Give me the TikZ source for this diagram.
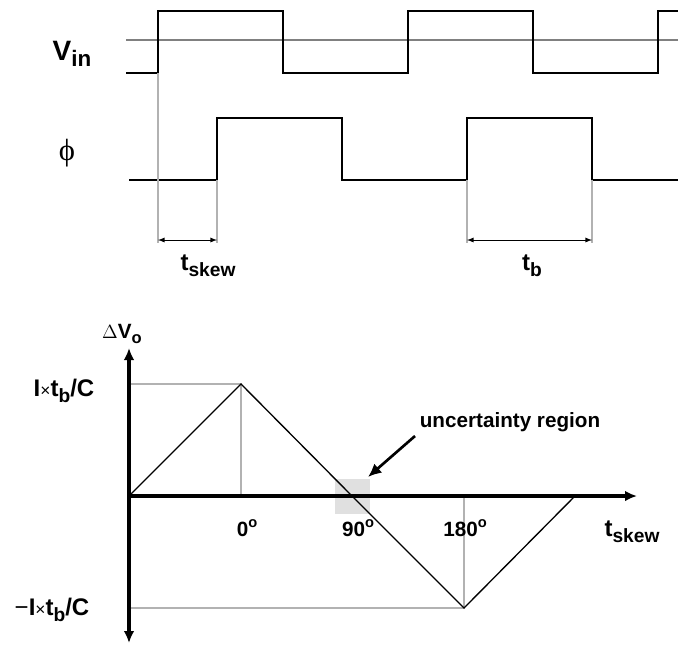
\documentclass[tikz,border=0pt]{standalone}
\usepackage{fontspec}
\setmainfont{Liberation Sans}
\newfontfamily\serifphi{Liberation Serif}
\usetikzlibrary{positioning,arrows.meta}

\newcommand{\lowtxt}[1]{\raisebox{-0.45ex}{\fontsize{0.8em}{1em}\selectfont #1}}
\newcommand{\degtxt}{\raisebox{0.85ex}{\fontsize{11}{11}\selectfont o}}

\begin{document}
\begin{tikzpicture}[x=0.75pt,y=-0.75pt,
wave/.style={draw=black,line width=1pt},
refline/.style={draw=black!50,line width=2pt},
guide/.style={draw=black!30,line width=0.8pt},
dimline/.style={draw=black,line width=0.7pt,latex-latex},
axis/.style={draw=black,line width=2.6pt},
bigtip/.style={-{Latex[length=9pt,width=8pt]}},
plot/.style={draw=black,line width=1pt},
lbl/.style={font=\fontsize{15.5}{18}\selectfont\bfseries,inner sep=1pt},
midlbl/.style={font=\fontsize{18}{21}\selectfont\bfseries,inner sep=1pt},
biglbl/.style={font=\fontsize{21}{24}\selectfont\bfseries,inner sep=1pt}]
\useasboundingbox (0,0) rectangle (678,644);

% timing waveforms
\draw[refline] (126,40) -- (678,40);
\draw[wave] (126,73) -| (158,11) -| (283,73) -| (408,11) -| (533,73) -| (658,11) -- (678,11);
\draw[wave] (129,180) -| (217,118) -| (342,180) -| (467,118) -| (592,180) -- (678,180);

\node [biglbl] (vin) at (72,54) {V\lowtxt{in}};
\node [font=\fontsize{23}{25}\selectfont\serifphi,inner sep=1pt] (phi) at (67,153) {\symbol{"03D5}};

\foreach \xx/\ya in {158/73,217/180,467/180,592/180}
    \draw[guide] (\xx,\ya) -- (\xx,243);
\coordinate (skew-0) at (158,240);
\coordinate (skew-1) at (217,240);
\coordinate (tb-0) at (467,240);
\coordinate (tb-1) at (592,240);
\draw[dimline] (skew-0) -- (skew-1);
\draw[dimline] (tb-0) -- (tb-1);
\node [midlbl] (tskew-top) at (208,266) {t\lowtxt{skew}};
\node [midlbl] (tb-lbl) at (532,266) {t\lowtxt{b}};

% transfer curve
\coordinate (o) at (129,496);
\coordinate (peak) at (241,384);
\coordinate (cross) at (352,496);
\coordinate (valley) at (464,608);
\coordinate (end) at (575,496);
\fill[black!12] (335,479) rectangle (370,514);
\draw[guide] (o |- peak) -- (peak) -- (peak |- o);
\draw[guide] (o |- valley) -- (valley) -- (valley |- o);
\draw[plot] (o) -- (peak) -- (cross) -- (valley) -- (end);
\draw[axis,bigtip] (o) -- (637,496);
\draw[axis,bigtip] (o) -- (129,348);
\draw[axis,bigtip] (o) -- (129,643);

\node [font=\fontsize{15.5}{18}\selectfont,inner sep=1pt] (dvo) at (122,334) {$\Delta$\textbf{V\lowtxt{o}}};
\node [midlbl] (pos) at (64,391) {I{\mdseries\fontsize{13}{13}\selectfont ×}t\lowtxt{b}/C};
\node [midlbl] (neg) at (52,610) {{\mdseries −}I{\mdseries\fontsize{13}{13}\selectfont ×}t\lowtxt{b}/C};
\node [lbl] (deg0) at (247,528) {0\degtxt};
\node [lbl] (deg90) at (358,528) {90\degtxt};
\node [lbl] (deg180) at (465,528) {180\degtxt};
\node [midlbl] (tskew-axis) at (632,532) {t\lowtxt{skew}};

\node [lbl] (unc) at (510,422) {uncertainty region};
\coordinate (unc-from) at (415,436);
\coordinate (unc-to) at (368,477);
\draw[axis,line width=2pt,-{Latex[length=10pt,width=9pt]}] (unc-from) -- (unc-to);
\end{tikzpicture}
\end{document}
